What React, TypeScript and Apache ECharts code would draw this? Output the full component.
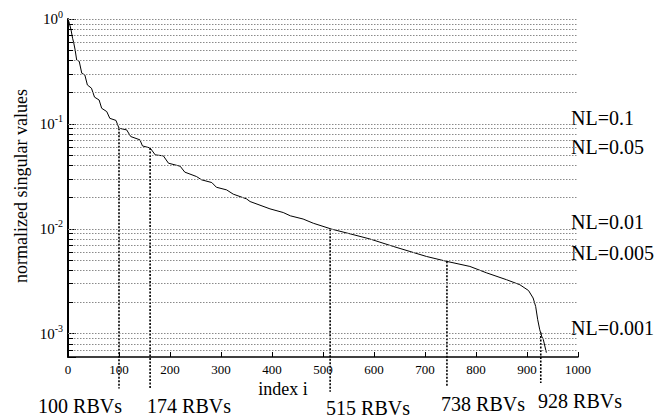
import React, { useEffect, useRef } from "react";
import * as echarts from "echarts";

const FONT = "Liberation Serif";

// curve: index i vs normalized singular value
const indexValues = [0, 3, 6, 9, 11, 14, 17, 22, 27, 33, 38, 46, 52, 61, 66, 76, 82, 94, 100, 115, 123, 141, 146, 161, 171, 187, 197, 220, 229, 252, 262, 282, 291, 311, 324, 350, 357, 396, 422, 436, 461, 481, 517, 553, 592, 638, 703, 743, 788, 821, 860, 886, 903, 912, 917, 921, 925, 929, 932, 938];
const singularValues = [1.0, 0.9, 0.785, 0.655, 0.6, 0.507, 0.407, 0.395, 0.304, 0.293, 0.235, 0.219, 0.18, 0.169, 0.141, 0.131, 0.113, 0.108, 0.091, 0.0877, 0.0758, 0.0705, 0.0617, 0.059, 0.0507, 0.0496, 0.0422, 0.0395, 0.0347, 0.0315, 0.0293, 0.0276, 0.0249, 0.0235, 0.0214, 0.0193, 0.0182, 0.0155, 0.0143, 0.0133, 0.0124, 0.0113, 0.00993, 0.00896, 0.008, 0.00679, 0.00545, 0.00489, 0.00438, 0.0038, 0.00327, 0.00293, 0.00258, 0.00219, 0.00182, 0.00136, 0.00109, 0.00094, 0.00088, 0.00066];

// vertical cut lines (x position, value where it meets the curve)
const cutX = [100, 161, 514, 743, 927];
const cutTop = [0.091, 0.059, 0.0099, 0.0049, 0.00103];
const cutBottom = [0.0003, 0.0003, 0.00028, 0.00031, 0.00034];
const cutLabels = ["100 RBVs", "174 RBVs", "515 RBVs", "738 RBVs", "928 RBVs"];

// noise level labels
const nlLabels = ["NL=0.1", "NL=0.05", "NL=0.01", "NL=0.005", "NL=0.001"];

// grid line values (log decades x multipliers)
const gridDecades = [1e-4, 1e-3, 1e-2, 1e-1, 1];
const gridMultipliers = [1, 2, 3, 4, 5, 6, 7, 8, 9];
const yMin = 0.0006;
const yMax = 1;
const xTicks = [0, 100, 200, 300, 400, 500, 600, 700, 800, 900, 1000];

// layout (pixels)
const cutLabelPos = [[80, 406], [189, 406], [368, 408], [483, 404], [580, 401]];
const nlLabelPos = [[571, 118], [571, 147], [571, 222], [571, 253], [571, 328]];

function textEl(t: string, x: number, y: number, size: number, align: string, rotation = 0) {
  return {
    type: "text",
    x,
    y,
    rotation,
    style: {
      text: t,
      fontFamily: FONT,
      fontSize: size,
      fill: "#000",
      align,
      verticalAlign: "middle",
      textAlign: align,
      textVerticalAlign: "middle",
    },
  };
}

export default function App() {
  const ref = useRef<HTMLDivElement>(null);
  useEffect(() => {
    if (!ref.current) return;
    const chart = echarts.init(ref.current, undefined, { renderer: "svg" });

    const gridValues: number[] = [];
    gridDecades.forEach((d) =>
      gridMultipliers.forEach((m) => {
        const v = d * m;
        if (v > yMin * 1.0001 && v <= yMax * 1.0001) gridValues.push(v);
      })
    );
    const minorValues = gridValues.filter(
      (v) => Math.abs(Math.log10(v) - Math.round(Math.log10(v))) > 1e-6
    );

    const gridLines = gridValues.map((v) => [{ coord: [0, v] }, { coord: [1000, v] }]);
    const tickLines = minorValues.map((v) => [
      { coord: [0, v], lineStyle: { color: "#000", type: "solid", width: 1 } },
      { coord: [10, v] },
    ]);

    const data = indexValues.map((x, i) => [x, singularValues[i]]);
    const cutData = cutX.map((x, i) => [x, cutTop[i], cutBottom[i]]);

    const graphics: any[] = [];
    cutLabels.forEach((t, i) => graphics.push(textEl(t, cutLabelPos[i][0], cutLabelPos[i][1], 20, "center")));
    nlLabels.forEach((t, i) => graphics.push(textEl(t, nlLabelPos[i][0], nlLabelPos[i][1], 20, "left")));
    graphics.push(textEl("index i", 283, 389, 18, "center"));
    graphics.push(textEl("normalized singular values", 21, 186, 18, "center", Math.PI / 2));

    chart.setOption({
      animation: false,
      backgroundColor: "#fff",
      grid: { left: 68, right: 79, top: 19, bottom: 61, containLabel: false },
      xAxis: {
        type: "value",
        min: 0,
        max: 1000,
        interval: 100,
        axisLine: { show: true, lineStyle: { color: "#000", width: 1.5 } },
        axisTick: { show: true, inside: true, length: 5, lineStyle: { color: "#000" } },
        axisLabel: {
          color: "#000",
          fontFamily: FONT,
          fontSize: 13,
          margin: 6,
          formatter: (v: number) => (xTicks.includes(v) ? String(v) : ""),
        },
        splitLine: { show: false },
      },
      yAxis: {
        type: "log",
        logBase: 10,
        min: yMin,
        max: yMax,
        splitNumber: 3,
        axisLine: { show: true, lineStyle: { color: "#000", width: 2 } },
        axisTick: { show: true, inside: true, length: 8, lineStyle: { color: "#000" } },
        axisLabel: {
          color: "#000",
          fontFamily: FONT,
          margin: 5,
          formatter: (v: number) => {
            const e = Math.log10(v);
            const r = Math.round(e);
            if (Math.abs(e - r) > 1e-6) return "";
            return `{b|10}{s|${r}}`;
          },
          rich: {
            b: { fontFamily: FONT, fontSize: 15, color: "#000" },
            s: { fontFamily: FONT, fontSize: 10, color: "#000", padding: [0, 0, 10, 0] },
          },
        },
        splitLine: { show: false },
      },
      graphic: graphics,
      series: [
        {
          type: "line",
          data,
          clip: false,
          showSymbol: false,
          symbol: "none",
          lineStyle: { color: "#000", width: 1 },
          z: 3,
          markLine: {
            silent: true,
            symbol: "none",
            animation: false,
            label: { show: false },
            emphasis: { disabled: true },
            lineStyle: { color: "#8a8a8a", type: [1.5, 1.5], width: 1 },
            data: [...gridLines, ...tickLines],
          },
        },
        {
          type: "custom",
          data: cutData,
          clip: false,
          silent: true,
          z: 4,
          encode: { x: 0, y: [1, 2] },
          renderItem: (params: any, api: any) => {
            const x = api.value(0);
            const p1 = api.coord([x, api.value(1)]);
            const p2 = api.coord([x, api.value(2)]);
            return {
              type: "line",
              shape: { x1: p1[0], y1: p1[1], x2: p2[0], y2: p2[1] },
              style: { stroke: "#000", lineWidth: 1.6, lineDash: [2, 1.5] },
            };
          },
        },
      ],
    });
    return () => chart.dispose();
  }, []);
  return (
    <div
      ref={ref}
      style={{ position: "fixed", left: 0, top: 0, width: 657, height: 418 }}
    />
  );
}
